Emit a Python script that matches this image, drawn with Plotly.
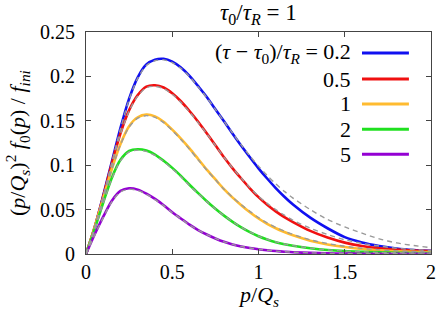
import plotly.graph_objects as go

# ---------------- data ----------------
x_vals = [0, 0.05, 0.1, 0.15, 0.2, 0.25, 0.3, 0.35, 0.4, 0.45, 0.5, 0.55, 0.6,
          0.65, 0.7, 0.75, 0.8, 0.85, 0.9, 0.95, 1.0, 1.05, 1.1, 1.15, 1.2,
          1.3, 1.4, 1.5, 1.6, 1.7, 1.8, 1.9, 2.0]

blue_vals = [0, 0.030, 0.066, 0.104, 0.142, 0.175, 0.199, 0.2135, 0.2189, 0.2198, 0.2166, 0.210, 0.2007,
             0.189, 0.1768, 0.163, 0.1494, 0.1355, 0.1219, 0.109, 0.0965, 0.085, 0.0742, 0.0645, 0.0557,
             0.0409, 0.0290, 0.0190, 0.0130, 0.0090, 0.0062, 0.0045, 0.0035]
red_vals = [0, 0.030, 0.065, 0.102, 0.136, 0.162, 0.179, 0.1885, 0.190, 0.1875, 0.181, 0.172, 0.161,
            0.149, 0.136, 0.1225, 0.109, 0.0965, 0.085, 0.074, 0.064, 0.0555, 0.048, 0.0415, 0.036,
            0.026, 0.0185, 0.0128, 0.009, 0.0065, 0.005, 0.004, 0.0034]
orange_vals = [0, 0.030, 0.063, 0.096, 0.124, 0.144, 0.154, 0.157, 0.155, 0.149, 0.140, 0.130, 0.119,
               0.107, 0.095, 0.084, 0.073, 0.0635, 0.055, 0.047, 0.040, 0.034, 0.029, 0.0248, 0.021,
               0.015, 0.0108, 0.0078, 0.0057, 0.0042, 0.0031, 0.0024, 0.002]
green_vals = [0, 0.028, 0.058, 0.086, 0.106, 0.116, 0.118, 0.1165, 0.112, 0.105, 0.097, 0.088, 0.078,
              0.0685, 0.0595, 0.051, 0.0432, 0.0362, 0.030, 0.0246, 0.020, 0.0163, 0.0133, 0.0110, 0.0092,
              0.0065, 0.0045, 0.0032, 0.0024, 0.0018, 0.0014, 0.0011, 0.001]
purple_vals = [0, 0.022, 0.042, 0.060, 0.071, 0.074, 0.0725, 0.068, 0.062, 0.055, 0.047, 0.040, 0.033,
               0.027, 0.022, 0.0175, 0.0137, 0.0108, 0.0085, 0.0067, 0.0053, 0.0042, 0.0033, 0.0026, 0.0020,
               0.0013, 0.0008, 0.0005, 0.0003, 0.0002, 0.0002, 0.0001, 0.0001]

# gray dashed comparison curves
blue_dash = [0, 0.029, 0.065, 0.103, 0.141, 0.174, 0.198, 0.2122, 0.2176, 0.2186, 0.2155, 0.209, 0.1998,
             0.1882, 0.1762, 0.1628, 0.1495, 0.136, 0.1228, 0.1105, 0.099, 0.0885, 0.079, 0.0705, 0.063,
             0.050, 0.039, 0.0305, 0.0235, 0.017, 0.0125, 0.0095, 0.0072]
red_dash = [0, 0.029, 0.064, 0.101, 0.135, 0.161, 0.178, 0.1873, 0.1888, 0.1863, 0.180, 0.171, 0.160,
            0.148, 0.1355, 0.1222, 0.109, 0.0968, 0.0855, 0.075, 0.065, 0.057, 0.050, 0.0437, 0.038,
            0.029, 0.022, 0.016, 0.012, 0.009, 0.0065, 0.005, 0.0038]
orange_dash = [0, 0.029, 0.062, 0.095, 0.123, 0.143, 0.153, 0.1558, 0.1538, 0.148, 0.139, 0.129, 0.118,
               0.106, 0.0945, 0.0838, 0.073, 0.0638, 0.0555, 0.048, 0.041, 0.035, 0.030, 0.0258, 0.022,
               0.016, 0.0118, 0.0087, 0.0064, 0.0047, 0.0035, 0.0027, 0.0021]
green_dash = [0, 0.027, 0.057, 0.085, 0.105, 0.115, 0.117, 0.1155, 0.111, 0.104, 0.096, 0.087, 0.077,
              0.068, 0.059, 0.0507, 0.0432, 0.0364, 0.0302, 0.0248, 0.0202, 0.0166, 0.0136, 0.0113, 0.0094,
              0.0066, 0.0046, 0.0033, 0.0025, 0.0018, 0.0014, 0.0011, 0.001]
purple_dash = [0, 0.021, 0.041, 0.059, 0.070, 0.073, 0.0715, 0.0672, 0.0613, 0.0545, 0.0466, 0.0397, 0.0328,
               0.0269, 0.0219, 0.0175, 0.0137, 0.0108, 0.0085, 0.0067, 0.0053, 0.0042, 0.0033, 0.0026, 0.0020,
               0.0013, 0.0008, 0.0005, 0.0003, 0.0002, 0.0002, 0.0001, 0.0001]

legend_labels = ["(<i>τ</i> − <i>τ</i><sub>0</sub>)/<i>τ</i><sub><i>R</i></sub> = 0.2", "0.5", "1", "2", "5"]
x_ticks = [0, 0.5, 1, 1.5, 2]
x_tick_text = ["0", "0.5", "1", "1.5", "2"]
y_ticks = [0, 0.05, 0.1, 0.15, 0.2, 0.25]
y_tick_text = ["0", "0.05", "0.1", "0.15", "0.2", "0.25"]

colors = ["#1010f0", "#f01010", "#ffbb30", "#20e020", "#9400d3"]
solid = [blue_vals, red_vals, orange_vals, green_vals, purple_vals]
dashed = [blue_dash, red_dash, orange_dash, green_dash, purple_dash]

FONT = "Liberation Serif, Times New Roman, serif"

fig = go.Figure()
for ys, c in zip(solid, colors):
    fig.add_trace(go.Scatter(x=x_vals, y=ys, mode="lines",
                             line=dict(color=c, width=2.6, shape="spline", smoothing=0.8),
                             showlegend=False, hoverinfo="skip"))
for ys in dashed:
    fig.add_trace(go.Scatter(x=x_vals, y=ys, mode="lines",
                             line=dict(color="#9a9a9a", width=1.4, dash="5px,4px", shape="spline", smoothing=0.8),
                             showlegend=False, hoverinfo="skip"))

# legend: text then a short line sample (drawn in paper coordinates)
row_y = [0.905, 0.788, 0.676, 0.562, 0.449]
for lab, c, yy in zip(legend_labels, colors, row_y):
    fig.add_annotation(x=0.775, y=yy, xref="paper", yref="paper", text=lab,
                       showarrow=False, xanchor="right", yanchor="middle",
                       font=dict(family=FONT, size=22, color="black"))
    fig.add_shape(type="line", xref="paper", yref="paper", x0=0.80, x1=0.936, y0=yy, y1=yy,
                  line=dict(color=c, width=3))

# title and axis titles as annotations
fig.add_annotation(x=0.5, y=1.081, xref="paper", yref="paper",
                   text="<i>τ</i><sub>0</sub>/<i>τ</i><sub><i>R</i></sub> = 1",
                   showarrow=False, xanchor="center", yanchor="middle",
                   font=dict(family=FONT, size=23, color="black"))
fig.add_annotation(x=0.5, y=-0.19, xref="paper", yref="paper",
                   text="<i>p</i>/<i>Q</i><sub><i>s</i></sub>",
                   showarrow=False, xanchor="center", yanchor="middle",
                   font=dict(family=FONT, size=22, color="black"))
fig.add_annotation(x=-0.2, y=0.5, xref="paper", yref="paper", textangle=-90,
                   text="(<i>p</i>/<i>Q</i><sub><i>s</i></sub>)<sup>2</sup> <i>f</i><sub>0</sub>(<i>p</i>) / <i>f</i><sub><i>ini</i></sub>",
                   showarrow=False, xanchor="center", yanchor="middle",
                   font=dict(family=FONT, size=22, color="black"))

fig.update_layout(
    width=436, height=311,
    margin=dict(l=86, r=5, t=32, b=57),
    paper_bgcolor="white", plot_bgcolor="white",
    font=dict(family=FONT, size=20, color="black"),
)
fig.update_xaxes(range=[0, 2], tickvals=x_ticks, ticktext=x_tick_text, ticks="inside", ticklen=5,
                 tickcolor="#444", showline=True, linecolor="#444", linewidth=1, mirror="ticks",
                 showgrid=False, zeroline=False, automargin=False,
                 tickfont=dict(family=FONT, size=20))
fig.update_yaxes(range=[0, 0.25], tickvals=y_ticks, ticktext=y_tick_text, ticks="inside", ticklen=5,
                 tickcolor="#444", showline=True, linecolor="#444", linewidth=1, mirror="ticks",
                 showgrid=False, zeroline=False, automargin=False, ticklabelstandoff=6,
                 tickfont=dict(family=FONT, size=20))

fig.write_html("out.html", config={"displayModeBar": False},
               post_script="document.body.style.margin='0px';")
